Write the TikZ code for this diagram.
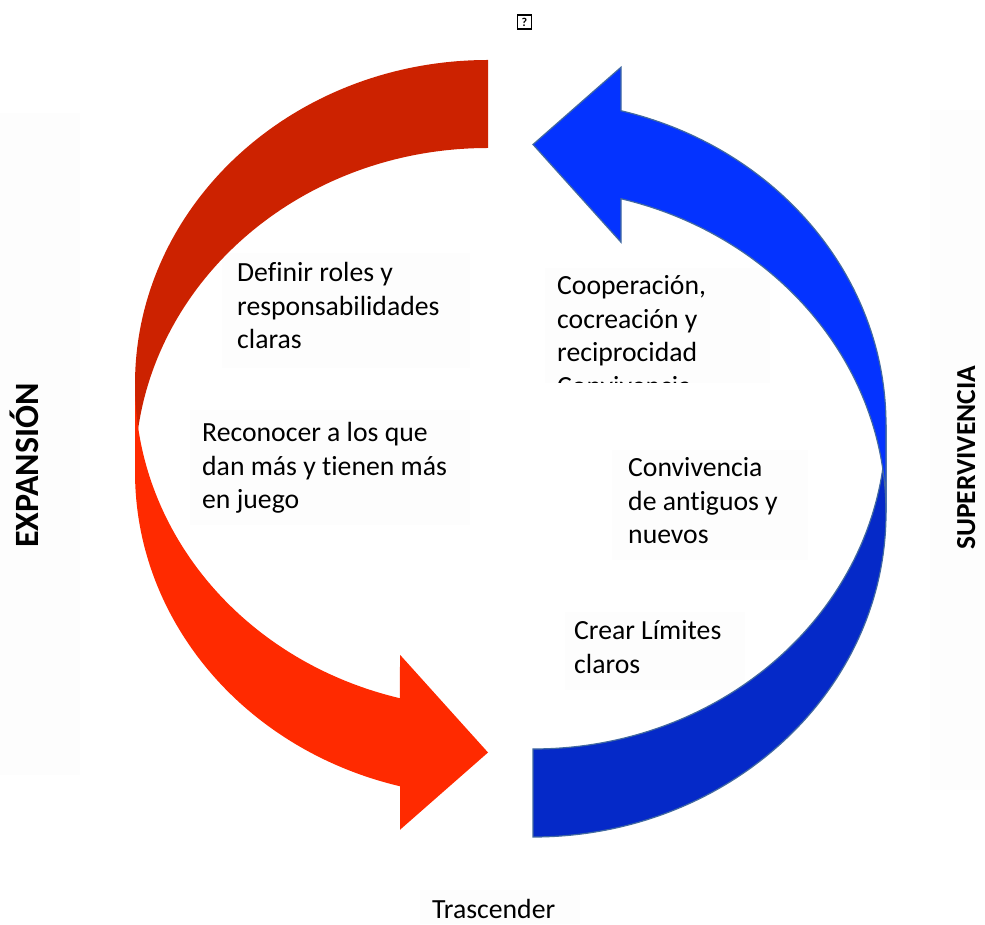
\documentclass[tikz,border=0pt]{standalone}
\usepackage{fontspec}
\setmainfont{Carlito}[Ligatures=NoCommon]

\definecolor{reddark}{HTML}{CC2200}
\definecolor{redlight}{HTML}{FF2A00}
\definecolor{bluedark}{HTML}{0529C8}
\definecolor{bluelight}{HTML}{0433FF}
\definecolor{blueline}{RGB}{65,105,160}
\definecolor{panegray}{RGB}{253,253,253}

% One curved arrow band: #1 styles the back (upper) piece, #2 the front piece with the head.
\newcommand\curvedband[2]{%
  \path[#1] (488,864)
    arc[start angle=90, end angle=180, x radius=353pt, y radius=324.25pt]
    -- (135,451.75)
    arc[start angle=180, end angle=90, x radius=353pt, y radius=324.25pt]
    -- cycle;
  \path[#2] (135,539.75)
    arc[start angle=180, end angle=255.56, x radius=353pt, y radius=324.25pt]
    -- (400,269.24) -- (488,171.5) -- (400,94.24) -- (400,137.74)
    arc[start angle=255.56, end angle=180, x radius=353pt, y radius=324.25pt]
    -- cycle;
}

\begin{document}
\begin{tikzpicture}[x=1pt, y=1pt,
  txt/.style={anchor=base west, inner sep=0pt,
    font=\fontsize{27.7pt}{33.4pt}\selectfont},
  side/.style={anchor=base west, inner sep=0pt, rotate=90,
    font=\bfseries\fontsize{#1}{#1}\selectfont},
  pane/.style={fill=panegray, draw=none},
  line join=miter]

\useasboundingbox (0,0) rectangle (985,924);

% faint text panels
\path[pane] (0,149) rectangle (80,811);
\path[pane] (930,134) rectangle (985,814);
\path[pane] (222,556) rectangle (470,671);
\path[pane] (190,399) rectangle (470,514);
\path[pane] (545,541) rectangle (770,656);
\path[pane] (612,364) rectangle (808,474);
\path[pane] (565,234) rectangle (745,312);
\path[pane] (420,0) rectangle (580,34);

% red arrow (left, pointing down-right)
\curvedband{fill=reddark}{fill=redlight}

% blue arrow (right, pointing up-left)
\begin{scope}[rotate around={180:(510.5,475.5)}]
  \curvedband{fill=bluedark, draw=blueline, line width=1.2pt}
             {fill=bluelight, draw=blueline, line width=1.2pt}
\end{scope}

% labels inside the cycle
\node[txt] (roles) at (237,642)
  {\vtop{\hbox{Definir roles y}\hbox{responsabilidades}\hbox{claras}}};
\node[txt] (reconocer) at (202,482)
  {\vtop{\hbox{Reconocer a los que}\hbox{dan más y tienen más}\hbox{en juego}}};
\begin{scope}
  \clip (545,541) rectangle (770,660);
  \node[txt] (cooperacion) at (557,629)
    {\vtop{\hbox{Cooperación,}\hbox{cocreación y}\hbox{reciprocidad}\hbox{Convivencia}}};
\end{scope}
\node[txt] (convivencia) at (628,447)
  {\vtop{\hbox{Convivencia}\hbox{de antiguos y}\hbox{nuevos}}};
\node[txt] (limites) at (574,284)
  {\vtop{\hbox{Crear Límites}\hbox{claros}}};
\node[txt] (trascender) at (432,6) {Trascender};

% side titles
\node[side=34pt] (expansion) at (38,376) {EXPANSIÓN};
\node[side=27.5pt] (supervivencia) at (975,374) {SUPERVIVENCIA};

% small mark at the top
\node[draw, line width=1.1pt, inner sep=0pt, minimum width=14pt, minimum height=14pt,
  font=\bfseries\fontsize{12pt}{12pt}\selectfont] (mark) at (524.5,902) {?};

\end{tikzpicture}
\end{document}
